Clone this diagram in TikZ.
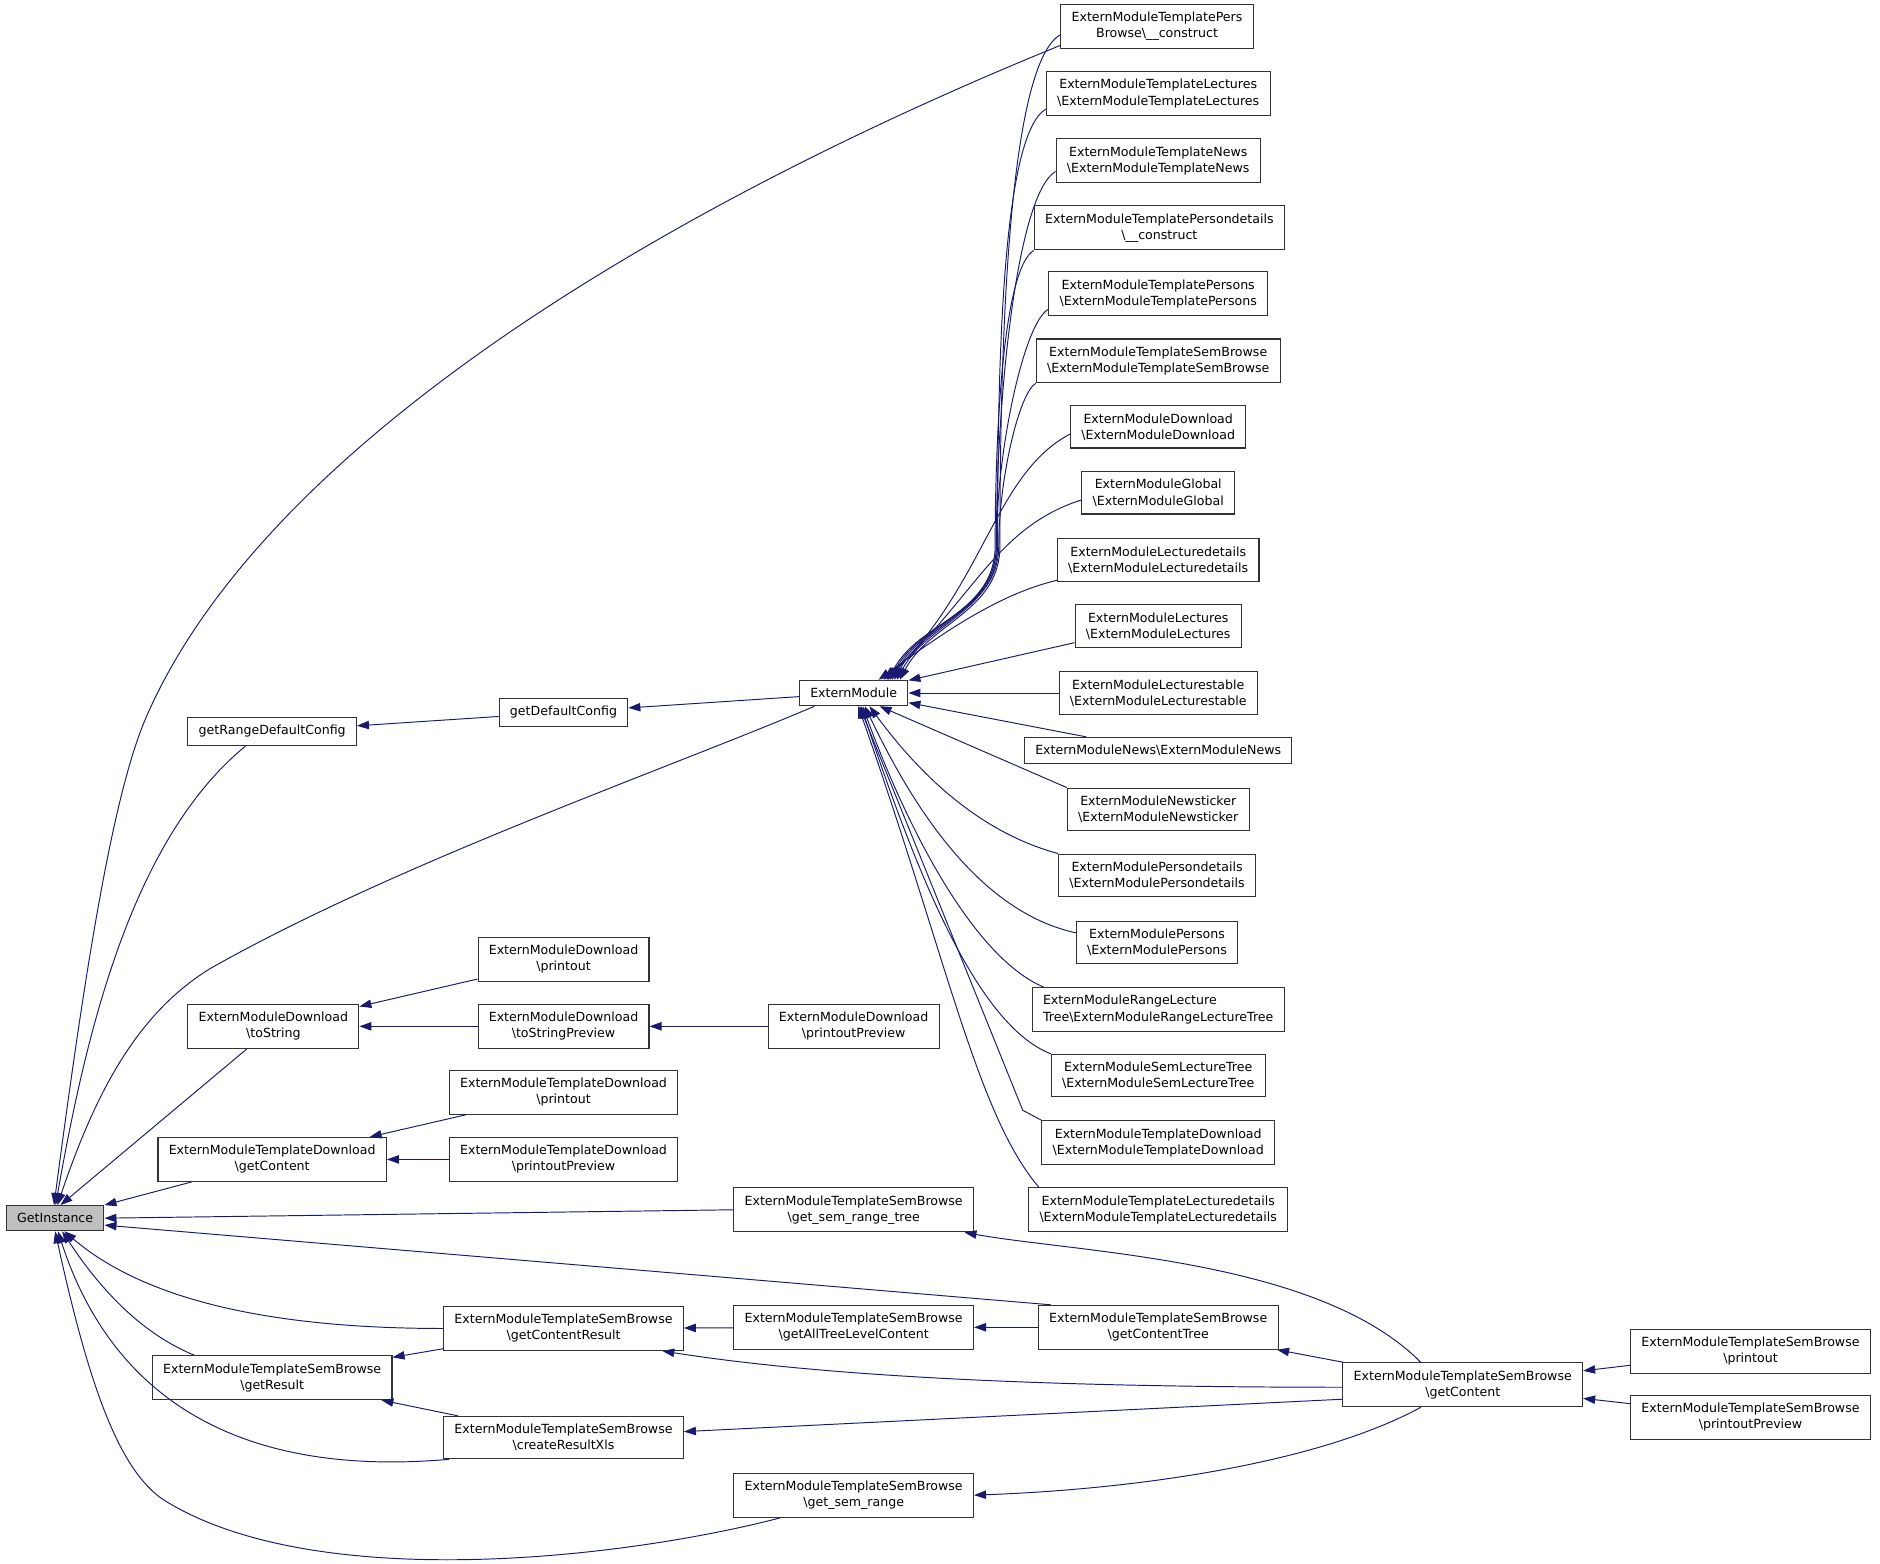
\documentclass[tikz,border=0pt]{standalone}
\usepackage{fontspec}
\setmainfont{DejaVu Sans}
\usetikzlibrary{arrows.meta}
\definecolor{edgeblue}{HTML}{191970}
\newcommand{\bsl}{\textbackslash{}}

\begin{document}
\begin{tikzpicture}[
    x=1pt,y=-1pt,
    >={Triangle[length=10pt,width=7pt]},
    func/.style={
        draw=black!80,
        fill=white,
        line width=0.9pt,
        align=center,
        font=\fontsize{10.5}{13.4}\selectfont,
        inner xsep=9pt,
        inner ysep=6.5pt
    },
    focus/.style={func,fill=black!25},
    call/.style={
        <-,
        draw=edgeblue,
        line width=0.8pt
    }
    ]

    \fill[white] (0,0) rectangle (1568,1304);
    \useasboundingbox (0,0) rectangle (1568,1304);

    \node[focus] (gi) at (46,1016) {GetInstance};

    \node[func] (grdc) at (227,610) {getRangeDefaultConfig};
    \node[func] (ts) at (228,856) {ExternModuleDownload\\\bsl toString};
    \node[func] (tdgc) at (227,967) {ExternModuleTemplateDownload\\\bsl getContent};
    \node[func] (gr) at (227,1149) {ExternModuleTemplateSemBrowse\\\bsl getResult};

    \node[func] (gdc) at (470,594) {getDefaultConfig};
    \node[func] (dlpr) at (470,800) {ExternModuleDownload\\\bsl printout};
    \node[func] (tsp) at (470,856) {ExternModuleDownload\\\bsl toStringPreview};
    \node[func] (tdpr) at (470,911) {ExternModuleTemplateDownload\\\bsl printout};
    \node[func] (tdpp) at (470,967) {ExternModuleTemplateDownload\\\bsl printoutPreview};
    \node[func] (gcr) at (470,1108) {ExternModuleTemplateSemBrowse\\\bsl getContentResult};
    \node[func] (crx) at (470,1199) {ExternModuleTemplateSemBrowse\\\bsl createResultXls};

    \node[func] (em) at (712,578) {ExternModule};
    \node[func] (dlpp) at (712,856) {ExternModuleDownload\\\bsl printoutPreview};
    \node[func] (sgrt) at (712,1009) {ExternModuleTemplateSemBrowse\\\bsl get\_sem\_range\_tree};
    \node[func] (gatl) at (712,1107) {ExternModuleTemplateSemBrowse\\\bsl getAllTreeLevelContent};
    \node[func] (sgr) at (712,1247) {ExternModuleTemplateSemBrowse\\\bsl get\_sem\_range};

    \node[func] (pb) at (965,22) {ExternModuleTemplatePers\\Browse\bsl\_\_construct};
    \node[func] (tlec) at (966,78) {ExternModuleTemplateLectures\\\bsl ExternModuleTemplateLectures};
    \node[func] (tnews) at (966,134) {ExternModuleTemplateNews\\\bsl ExternModuleTemplateNews};
    \node[func] (tpd) at (967,190) {ExternModuleTemplatePersondetails\\\bsl\_\_construct};
    \node[func] (tpers) at (966,245) {ExternModuleTemplatePersons\\\bsl ExternModuleTemplatePersons};
    \node[func] (tsb) at (966,301) {ExternModuleTemplateSemBrowse\\\bsl ExternModuleTemplateSemBrowse};
    \node[func] (dl) at (966,356) {ExternModuleDownload\\\bsl ExternModuleDownload};
    \node[func] (glob) at (966,411) {ExternModuleGlobal\\\bsl ExternModuleGlobal};
    \node[func] (lecd) at (966,467) {ExternModuleLecturedetails\\\bsl ExternModuleLecturedetails};
    \node[func] (lec) at (966,522) {ExternModuleLectures\\\bsl ExternModuleLectures};
    \node[func] (lecs) at (966,578) {ExternModuleLecturestable\\\bsl ExternModuleLecturestable};
    \node[func] (news) at (966,626) {ExternModuleNews\bsl ExternModuleNews};
    \node[func] (ntick) at (966,675) {ExternModuleNewsticker\\\bsl ExternModuleNewsticker};
    \node[func] (pd) at (965,730) {ExternModulePersondetails\\\bsl ExternModulePersondetails};
    \node[func] (pers) at (965,786) {ExternModulePersons\\\bsl ExternModulePersons};
    \node[func,align=left] (rlt) at (966,842) {ExternModuleRangeLecture\\Tree\bsl ExternModuleRangeLectureTree};
    \node[func] (slt) at (966,897) {ExternModuleSemLectureTree\\\bsl ExternModuleSemLectureTree};
    \node[func] (tdl) at (966,953) {ExternModuleTemplateDownload\\\bsl ExternModuleTemplateDownload};
    \node[func] (tld) at (966,1009) {ExternModuleTemplateLecturedetails\\\bsl ExternModuleTemplateLecturedetails};
    \node[func] (gct) at (966,1107) {ExternModuleTemplateSemBrowse\\\bsl getContentTree};

    \node[func] (gc) at (1220,1155) {ExternModuleTemplateSemBrowse\\\bsl getContent};
    \node[func] (sbpr) at (1460,1127) {ExternModuleTemplateSemBrowse\\\bsl printout};
    \node[func] (sbpp) at (1460,1182) {ExternModuleTemplateSemBrowse\\\bsl printoutPreview};

    % callers of GetInstance
    \draw[call] (gi.95) .. controls (72,800) and (95,660) .. (122,598) .. controls (222,368) and (560,170) .. ([yshift=3pt]pb.south west);
    \draw[call] (gi.88) .. controls (72,860) and (110,700) .. ([xshift=-22pt]grdc.south);
    \draw[call] (gi.80) .. controls (80,910) and (115,845) .. (175,808) .. controls (330,720) and (560,640) .. ([xshift=13pt]em.south west);
    \draw[call] (gi.68) -- ([xshift=-22pt]ts.south);
    \draw[call] (gi.north east) -- ([xshift=-67pt]tdgc.south);
    \draw[call] (gi.east) -- (sgrt.west);
    \draw[call] (gi.-8) -- ([xshift=11pt]gct.north west);
    \draw[call] (gi.-55) .. controls (110,1075) and (200,1108) .. (gcr.west);
    \draw[call] (gi.-62) .. controls (90,1085) and (125,1115) .. ([xshift=-65pt]gr.north);
    \draw[call] (gi.-78) .. controls (85,1140) and (170,1235) .. ([xshift=5pt]crx.south west);
    \draw[call] (gi.-90) .. controls (75,1160) and (100,1225) .. (135,1250) .. controls (260,1330) and (520,1300) .. ([xshift=-61pt]sgr.south);

    \draw[call] (grdc) -- (gdc);
    \draw[call] (gdc) -- (em);
    \draw[call] (ts) -- (dlpr);
    \draw[call] (ts) -- (tsp);
    \draw[call] (tsp) -- (dlpp);
    \draw[call] (tdgc) -- (tdpr);
    \draw[call] (tdgc) -- (tdpp);
    \draw[call] (gr) -- (gcr);
    \draw[call] (gr) -- (crx);
    \draw[call] (gcr) -- (gatl);
    \draw[call] (gatl) -- (gct);

    % callers of getContent
    \draw[call] ([xshift=-18pt]gcr.south east) .. controls (700,1150) and (900,1157) .. ([yshift=-2pt]gc.west);
    \draw[call] ([xshift=-8pt]sgrt.south east) .. controls (900,1045) and (1100,1050) .. ([xshift=-35pt]gc.north);
    \draw[call] (gct) -- (gc);
    \draw[call] ([yshift=5pt]crx.east) -- ([yshift=-12pt]gc.west);
    \draw[call] (sgr.east) .. controls (950,1242) and (1100,1220) .. ([xshift=-35pt]gc.south);
    \draw[call] (gc) -- (sbpr);
    \draw[call] (gc) -- (sbpp);

    % callers of ExternModule
    \draw[call] (em.16) to[out=62,in=-90] (834,455) to[out=90,in=210,in looseness=0.3] ([yshift=-7pt]pb.west);
    \draw[call] (em.17) to[out=62,in=-90] (832,455) to[out=90,in=210,in looseness=0.3] ([yshift=-13pt]tlec.west);
    \draw[call] (em.18) to[out=62,in=-90] (831,455) to[out=90,in=210,in looseness=0.3] ([yshift=-9pt]tnews.west);
    \draw[call] (em.19) to[out=62,in=-90] (830,455) to[out=90,in=210,in looseness=0.3] (tpd.south west);
    \draw[call] (em.20) to[out=62,in=-90] (831,455) to[out=90,in=210,in looseness=0.3] ([yshift=-13pt]tpers.west);
    \draw[call] (em.21) to[out=62,in=-90] (833,455) to[out=90,in=210,in looseness=0.3] (tsb.south west);
    \draw[call] (em.22) .. controls (822,485) and (830,395) .. ([yshift=-6pt]dl.west);
    \draw[call] (em.24) .. controls (812,500) and (830,440) .. ([yshift=-6pt]glob.west);
    \draw[call] (em.28) .. controls (790,525) and (835,495) .. ([yshift=-17pt]lecd.west);
    \draw[call] (em.13) -- ([yshift=-14pt]lec.west);
    \draw[call] (em.east) -- (lecs.west);
    \draw[call] (em.-10) -- ([xshift=-60pt]news.north);
    \draw[call] (em.-27) -- (ntick.north west);
    \draw[call] (em.-40) .. controls (770,650) and (820,695) .. (pd.north west);
    \draw[call] (em.-50) .. controls (760,670) and (815,760) .. ([yshift=8pt]pers.west);
    \draw[call] (em.-56) .. controls (760,700) and (815,800) .. ([xshift=10pt]rlt.north west);
    \draw[call] (em.-61) .. controls (765,730) and (815,855) .. (slt.north west);
    \draw[call] (em.-66) -- (853,926) -- (tdl.north west);
    \draw[call] (em.-71) .. controls (790,800) and (815,930) .. ([xshift=9pt]tld.north west);

\end{tikzpicture}
\end{document}
